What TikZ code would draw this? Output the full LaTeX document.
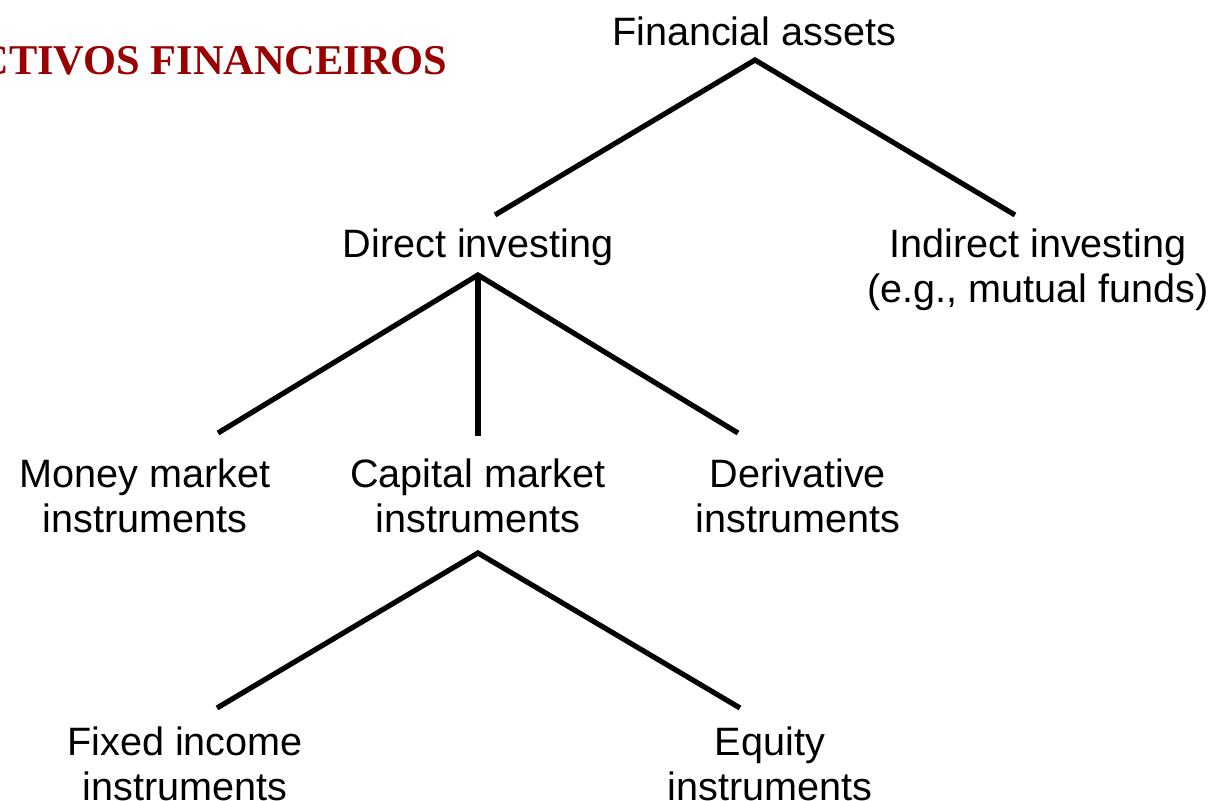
\documentclass[tikz,border=0pt]{standalone}
\usepackage{fontspec}
\setmainfont{Liberation Sans}
\newfontfamily\titlefont{Liberation Serif}
\usetikzlibrary{positioning}
\definecolor{titlered}{RGB}{153,0,0}

\begin{document}
\begin{tikzpicture}[
    x=0.5pt, y=-0.5pt,
    lbl/.style={anchor=base, align=center, inner sep=0pt, font=\fontsize{19.8}{22.5}\selectfont},
    branch/.style={line width=2.6pt, line join=miter}
  ]
    \useasboundingbox (0,0) rectangle (1214,801);
    \node[anchor=base east, inner sep=0pt, text=titlered, font=\titlefont\bfseries\fontsize{21.2}{24}\selectfont] (title) at (448,75) {CTIVOS FINANCEIROS};

    % tree levels (base = last line)
    \node[lbl] (fa) at (754,46) {Financial assets};
    \node[lbl] (di) at (478,258) {Direct investing};
    \node[lbl] (ii) at (1038,303) {Indirect investing\\(e.g., mutual funds)};
    \node[lbl] (mm) at (145,532) {Money market\\instruments};
    \node[lbl] (cm) at (478,532) {Capital market\\instruments};
    \node[lbl] (dv) at (798,532) {Derivative\\instruments};
    \node[lbl] (fi) at (185,800) {Fixed income\\instruments};
    \node[lbl] (eq) at (770,800) {Equity\\instruments};

    % branch points
    \coordinate (fa-j) at (755,60);
    \coordinate (di-in) at (495,215);
    \coordinate (ii-in) at (1015,215);
    \coordinate (di-j) at (478,275);
    \coordinate (mm-in) at (218,433);
    \coordinate (cm-in) at (478,436);
    \coordinate (dv-in) at (738,433);
    \coordinate (cm-j) at (478,553);
    \coordinate (fi-in) at (217,708);
    \coordinate (eq-in) at (740,708);

    \draw[branch] (di-in) -- (fa-j) -- (ii-in);
    \draw[branch] (mm-in) -- (di-j) -- (dv-in);
    \draw[branch] (di-j) -- (cm-in);
    \draw[branch] (fi-in) -- (cm-j) -- (eq-in);
\end{tikzpicture}
\end{document}
